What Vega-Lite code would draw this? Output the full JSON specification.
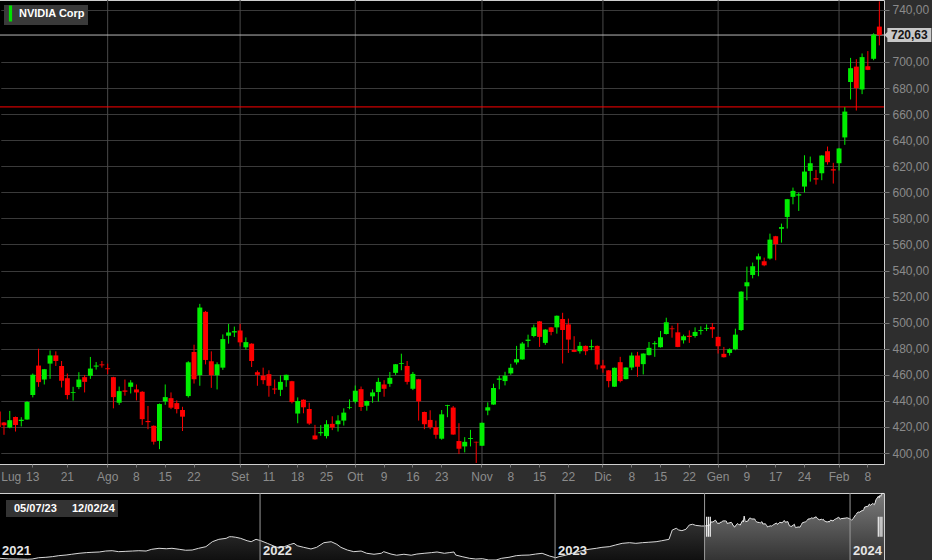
{
  "$schema": "https://vega.github.io/schema/vega-lite/v6.json",
  "background": "#2e2e2e",
  "padding": {"left": -4, "top": -1, "right": 0, "bottom": 0},
  "spacing": 7,
  "config": {
    "locale": {"number": {"decimal": ",", "thousands": ".", "grouping": [3], "currency": ["", " €"]}},
    "view": {"stroke": "#cfcfcf", "fill": "#000000"},
    "font": "Liberation Sans",
    "axis": {"labelFont": "Liberation Sans", "domain": false}
  },
  "datasets": {
    "candles": [
      {"date":"2023-07-05","open":431.8,"high":432.5,"low":418.5,"close":419.8},
      {"date":"2023-07-06","open":423.4,"high":423.8,"low":414,"close":421.4},
      {"date":"2023-07-07","open":419.6,"high":432.3,"low":419,"close":425.2},
      {"date":"2023-07-10","open":427.7,"high":428,"low":416.5,"close":421.6},
      {"date":"2023-07-11","open":424.5,"high":427.5,"low":420.4,"close":425.5},
      {"date":"2023-07-12","open":425.7,"high":439.9,"low":425.5,"close":439.1},
      {"date":"2023-07-13","open":444.5,"high":461,"low":442.7,"close":460},
      {"date":"2023-07-14","open":467.1,"high":480,"low":450.8,"close":454.4},
      {"date":"2023-07-17","open":456.4,"high":464.5,"low":452.6,"close":464.3},
      {"date":"2023-07-18","open":468.6,"high":478.7,"low":456.9,"close":474.9},
      {"date":"2023-07-19","open":474.9,"high":478,"low":466.8,"close":470.6},
      {"date":"2023-07-20","open":466.8,"high":470.6,"low":450.3,"close":455.4},
      {"date":"2023-07-21","open":457.4,"high":461,"low":441.2,"close":444.5},
      {"date":"2023-07-24","open":446.2,"high":450.8,"low":440.2,"close":446.8},
      {"date":"2023-07-25","open":450.6,"high":462,"low":449,"close":456.4},
      {"date":"2023-07-26","open":458.2,"high":459.9,"low":446.5,"close":454.6},
      {"date":"2023-07-27","open":459.2,"high":473.7,"low":456.9,"close":464.8},
      {"date":"2023-07-28","open":466.3,"high":469.8,"low":464,"close":467.1},
      {"date":"2023-07-31","open":468,"high":470.6,"low":465.5,"close":467.3},
      {"date":"2023-08-01","open":465,"high":468.6,"low":460.5,"close":464.3},
      {"date":"2023-08-02","open":458.2,"high":458.5,"low":434.3,"close":442.9},
      {"date":"2023-08-03","open":438.6,"high":451,"low":436.9,"close":447.5},
      {"date":"2023-08-04","open":448,"high":456.4,"low":444,"close":447},
      {"date":"2023-08-07","open":450.8,"high":455.9,"low":445.7,"close":454.1},
      {"date":"2023-08-08","open":448.8,"high":452.6,"low":440.4,"close":446.5},
      {"date":"2023-08-09","open":447,"high":447.5,"low":421.6,"close":426},
      {"date":"2023-08-10","open":424.6,"high":436.1,"low":418.3,"close":423.7},
      {"date":"2023-08-11","open":420.9,"high":421.2,"low":406.5,"close":408.7},
      {"date":"2023-08-14","open":409.3,"high":438,"low":403,"close":437.6},
      {"date":"2023-08-15","open":439.6,"high":452.6,"low":437,"close":442.9},
      {"date":"2023-08-16","open":442.1,"high":446.5,"low":433.7,"close":434.8},
      {"date":"2023-08-17","open":438.3,"high":440.4,"low":430.4,"close":433.7},
      {"date":"2023-08-18","open":433,"high":435.5,"low":416.9,"close":427.9},
      {"date":"2023-08-21","open":443.7,"high":470.4,"low":442.6,"close":469.6},
      {"date":"2023-08-22","open":477.5,"high":483.1,"low":453.3,"close":456.6},
      {"date":"2023-08-23","open":459.7,"high":514.4,"low":451.6,"close":511.6},
      {"date":"2023-08-24","open":508.3,"high":509,"low":468,"close":471.4},
      {"date":"2023-08-25","open":470.4,"high":478,"low":450,"close":459.7},
      {"date":"2023-08-28","open":459.7,"high":469.6,"low":448.8,"close":468.1},
      {"date":"2023-08-29","open":465.5,"high":491,"low":463.8,"close":487.4},
      {"date":"2023-08-30","open":490,"high":499.1,"low":483.9,"close":492.5},
      {"date":"2023-08-31","open":492.5,"high":497,"low":489,"close":493.5},
      {"date":"2023-09-01","open":494,"high":499.1,"low":481.8,"close":484.9},
      {"date":"2023-09-05","open":481.1,"high":488.7,"low":479.3,"close":485.1},
      {"date":"2023-09-06","open":483.9,"high":484.2,"low":466,"close":470.6},
      {"date":"2023-09-07","open":462,"high":463.3,"low":451.6,"close":460},
      {"date":"2023-09-08","open":459.4,"high":465.5,"low":452.8,"close":455.9},
      {"date":"2023-09-11","open":460.5,"high":463.5,"low":443.2,"close":451.6},
      {"date":"2023-09-12","open":449.5,"high":456.4,"low":445.2,"close":448.7},
      {"date":"2023-09-13","open":448.5,"high":459.7,"low":443.7,"close":454.6},
      {"date":"2023-09-14","open":455.9,"high":460.2,"low":450.8,"close":460},
      {"date":"2023-09-15","open":455.1,"high":455.4,"low":438.1,"close":439.1},
      {"date":"2023-09-18","open":430.3,"high":442.7,"low":422.9,"close":439.9},
      {"date":"2023-09-19","open":440.9,"high":441.2,"low":430.5,"close":435.1},
      {"date":"2023-09-20","open":433.8,"high":438.6,"low":421.6,"close":422.6},
      {"date":"2023-09-21","open":413.5,"high":421.6,"low":410.3,"close":410.5},
      {"date":"2023-09-22","open":415.2,"high":421.4,"low":413.2,"close":416},
      {"date":"2023-09-25","open":413,"high":425.2,"low":411.2,"close":422.1},
      {"date":"2023-09-26","open":422.4,"high":428.2,"low":417.6,"close":419.6},
      {"date":"2023-09-27","open":422.1,"high":429,"low":416.5,"close":424.9},
      {"date":"2023-09-28","open":424.9,"high":434.3,"low":421.1,"close":431},
      {"date":"2023-09-29","open":434.6,"high":441.2,"low":433.6,"close":435.1},
      {"date":"2023-10-02","open":439.4,"high":451.8,"low":438.1,"close":447.8},
      {"date":"2023-10-03","open":449,"high":451,"low":432.3,"close":435.3},
      {"date":"2023-10-04","open":436.3,"high":440.2,"low":432.5,"close":439.9},
      {"date":"2023-10-05","open":443.5,"high":448.8,"low":438.6,"close":446.5},
      {"date":"2023-10-06","open":446.8,"high":457.7,"low":439.4,"close":454.6},
      {"date":"2023-10-09","open":452.6,"high":455.9,"low":443.2,"close":449.3},
      {"date":"2023-10-10","open":453.1,"high":462.2,"low":450.8,"close":457.7},
      {"date":"2023-10-11","open":461.5,"high":468.3,"low":459.9,"close":468.1},
      {"date":"2023-10-12","open":468.3,"high":476.2,"low":463.5,"close":468.9},
      {"date":"2023-10-13","open":466.8,"high":470.6,"low":452.6,"close":454.6},
      {"date":"2023-10-16","open":449.3,"high":462.2,"low":448.3,"close":460.7},
      {"date":"2023-10-17","open":456.6,"high":456.9,"low":424.9,"close":439.6},
      {"date":"2023-10-18","open":431.5,"high":431.8,"low":418.3,"close":422.1},
      {"date":"2023-10-19","open":425.4,"high":432.8,"low":418.3,"close":419.8},
      {"date":"2023-10-20","open":419.8,"high":424.9,"low":411,"close":414},
      {"date":"2023-10-23","open":411,"high":433,"low":410.2,"close":429.7},
      {"date":"2023-10-24","open":436.2,"high":437,"low":427.5,"close":436.8},
      {"date":"2023-10-25","open":434.9,"high":436.1,"low":414,"close":414.2},
      {"date":"2023-10-26","open":409.2,"high":422.9,"low":399.2,"close":403.3},
      {"date":"2023-10-27","open":405.1,"high":412.2,"low":400.5,"close":408.6},
      {"date":"2023-10-30","open":410.8,"high":417.8,"low":405.1,"close":411.5},
      {"date":"2023-10-31","open":408.6,"high":408.8,"low":392.4,"close":408.1},
      {"date":"2023-11-01","open":405.6,"high":423.4,"low":405.4,"close":423.2},
      {"date":"2023-11-02","open":432.6,"high":438.9,"low":429,"close":435.1},
      {"date":"2023-11-03","open":437.2,"high":453.2,"low":437,"close":449.9},
      {"date":"2023-11-06","open":456.2,"high":459.3,"low":448.9,"close":457.2},
      {"date":"2023-11-07","open":455.2,"high":462.3,"low":451.9,"close":459.3},
      {"date":"2023-11-08","open":461.1,"high":468.4,"low":460,"close":465.4},
      {"date":"2023-11-09","open":469.5,"high":482.2,"low":467.9,"close":472},
      {"date":"2023-11-10","open":471.8,"high":485.2,"low":471.6,"close":484},
      {"date":"2023-11-13","open":486,"high":490.8,"low":481.2,"close":487},
      {"date":"2023-11-14","open":489.8,"high":498.5,"low":488.8,"close":496.4},
      {"date":"2023-11-15","open":501,"high":501.3,"low":481.4,"close":489.1},
      {"date":"2023-11-16","open":484.5,"high":495,"low":483,"close":494.7},
      {"date":"2023-11-17","open":496.4,"high":496.7,"low":490.3,"close":492.9},
      {"date":"2023-11-20","open":496.4,"high":505.5,"low":491.6,"close":505.3},
      {"date":"2023-11-21","open":502.8,"high":507.6,"low":468.7,"close":494.4},
      {"date":"2023-11-22","open":498.7,"high":503.1,"low":476.8,"close":487},
      {"date":"2023-11-24","open":479.1,"high":489.6,"low":477.4,"close":477.6},
      {"date":"2023-11-27","open":478.1,"high":485.2,"low":476.3,"close":482.2},
      {"date":"2023-11-28","open":482.2,"high":482.5,"low":475.1,"close":478.1},
      {"date":"2023-11-29","open":481.2,"high":487,"low":478.9,"close":482},
      {"date":"2023-11-30","open":482.2,"high":482.5,"low":464.1,"close":467.9},
      {"date":"2023-12-01","open":467.2,"high":471.5,"low":461.6,"close":464.9},
      {"date":"2023-12-04","open":463.4,"high":463.6,"low":450.4,"close":455.2},
      {"date":"2023-12-05","open":450.9,"high":465.6,"low":450.7,"close":465.4},
      {"date":"2023-12-06","open":469.7,"high":473.8,"low":454.2,"close":455.2},
      {"date":"2023-12-07","open":456.7,"high":465.8,"low":456.5,"close":465.6},
      {"date":"2023-12-08","open":465.6,"high":477.1,"low":463.6,"close":474.8},
      {"date":"2023-12-11","open":474.8,"high":477.6,"low":458.5,"close":466.2},
      {"date":"2023-12-12","open":468.2,"high":476.5,"low":460.3,"close":476.3},
      {"date":"2023-12-13","open":475.1,"high":485.2,"low":474.9,"close":480.7},
      {"date":"2023-12-14","open":483.5,"high":485.8,"low":473.8,"close":484.3},
      {"date":"2023-12-15","open":481.2,"high":493.6,"low":480.9,"close":488.8},
      {"date":"2023-12-18","open":491.3,"high":503.8,"low":490.9,"close":500.3},
      {"date":"2023-12-19","open":495.6,"high":497.7,"low":488.5,"close":495},
      {"date":"2023-12-20","open":492.6,"high":499.7,"low":481.2,"close":481.4},
      {"date":"2023-12-21","open":486.5,"high":490.8,"low":484,"close":489.6},
      {"date":"2023-12-22","open":490,"high":494.1,"low":484.5,"close":489},
      {"date":"2023-12-26","open":489.8,"high":496.4,"low":488.5,"close":492.9},
      {"date":"2023-12-27","open":493.7,"high":497.2,"low":490.8,"close":494.4},
      {"date":"2023-12-28","open":495.3,"high":498.7,"low":493.6,"close":496},
      {"date":"2023-12-29","open":496.7,"high":499.7,"low":488.3,"close":494.9},
      {"date":"2024-01-02","open":489.1,"high":489.4,"low":476.3,"close":481.9},
      {"date":"2024-01-03","open":476.1,"high":481.4,"low":473.3,"close":473.5},
      {"date":"2024-01-04","open":476.8,"high":480.3,"low":474.8,"close":479.6},
      {"date":"2024-01-05","open":479.6,"high":495.4,"low":478.9,"close":490.8},
      {"date":"2024-01-08","open":494.4,"high":524.1,"low":493.7,"close":523.8},
      {"date":"2024-01-09","open":527.9,"high":543,"low":517.2,"close":531},
      {"date":"2024-01-10","open":536.6,"high":546.1,"low":534,"close":543.3},
      {"date":"2024-01-11","open":548.4,"high":553,"low":535.6,"close":550.9},
      {"date":"2024-01-12","open":547.1,"high":549.9,"low":543.3,"close":544},
      {"date":"2024-01-16","open":549.2,"high":568.3,"low":548.4,"close":563.7},
      {"date":"2024-01-17","open":566.3,"high":566.6,"low":547.9,"close":560.2},
      {"date":"2024-01-18","open":572,"high":576,"low":561.4,"close":573.3},
      {"date":"2024-01-19","open":581.1,"high":594.9,"low":572.2,"close":594.7},
      {"date":"2024-01-22","open":596.5,"high":603.6,"low":590.8,"close":601.1},
      {"date":"2024-01-23","open":597.5,"high":599.8,"low":585.7,"close":598.5},
      {"date":"2024-01-24","open":604.4,"high":628.4,"low":599.8,"close":615.9},
      {"date":"2024-01-25","open":616.4,"high":627.4,"low":608.2,"close":622.3},
      {"date":"2024-01-26","open":610.8,"high":617.2,"low":605.9,"close":609.8},
      {"date":"2024-01-29","open":614.6,"high":628.5,"low":609.3,"close":628.2},
      {"date":"2024-01-30","open":631.5,"high":635.1,"low":621.3,"close":623.1},
      {"date":"2024-01-31","open":617.7,"high":622.6,"low":606.7,"close":616.7},
      {"date":"2024-02-01","open":622.3,"high":634,"low":616.7,"close":633.6},
      {"date":"2024-02-02","open":642.1,"high":665.3,"low":636.4,"close":661.9},
      {"date":"2024-02-05","open":684.6,"high":703.1,"low":671.2,"close":695.2},
      {"date":"2024-02-06","open":696.4,"high":702.1,"low":662.7,"close":679.9},
      {"date":"2024-02-07","open":678.9,"high":706.5,"low":675.3,"close":703.7},
      {"date":"2024-02-08","open":696.7,"high":708.3,"low":693.7,"close":693.9},
      {"date":"2024-02-09","open":702.4,"high":722,"low":701.3,"close":720.9},
      {"date":"2024-02-12","open":727.1,"high":746.4,"low":712.7,"close":720.63}
    ],
    "months": [
      {"date":"2023-08-01"},{"date":"2023-09-01"},{"date":"2023-10-02"},{"date":"2023-11-01"},
      {"date":"2023-12-01"},{"date":"2024-01-02"},{"date":"2024-02-01"}
    ],
    "last": [{"date":"2024-02-12","close":720.63}],
    "level": [{"level":665.5}],
    "series": [{"name":"NVIDIA Corp"}],
    "navHist": [
      {"t":"2021-02-12","v":122},{"t":"2021-02-24","v":116},{"t":"2021-03-09","v":115},{"t":"2021-03-19","v":113},
      {"t":"2021-03-25","v":115},{"t":"2021-04-02","v":127},{"t":"2021-04-11","v":131},{"t":"2021-04-19","v":137},
      {"t":"2021-04-27","v":146},{"t":"2021-05-06","v":152},{"t":"2021-05-13","v":159},{"t":"2021-05-22","v":168},
      {"t":"2021-05-31","v":174},{"t":"2021-06-07","v":177},{"t":"2021-06-16","v":180},{"t":"2021-06-24","v":189},
      {"t":"2021-07-02","v":192},{"t":"2021-07-10","v":183},{"t":"2021-07-19","v":186},{"t":"2021-07-27","v":189},
      {"t":"2021-08-04","v":192},{"t":"2021-08-13","v":189},{"t":"2021-08-20","v":205},{"t":"2021-08-29","v":214},
      {"t":"2021-09-07","v":210},{"t":"2021-09-14","v":214},{"t":"2021-09-23","v":205},{"t":"2021-10-01","v":196},
      {"t":"2021-10-09","v":198},{"t":"2021-10-17","v":214},{"t":"2021-10-26","v":229},{"t":"2021-11-03","v":275},
      {"t":"2021-11-11","v":297},{"t":"2021-11-20","v":306},{"t":"2021-11-24","v":321},{"t":"2021-11-27","v":321},
      {"t":"2021-12-02","v":316},{"t":"2021-12-08","v":306},{"t":"2021-12-16","v":284},{"t":"2021-12-21","v":275},
      {"t":"2021-12-27","v":297},{"t":"2022-01-02","v":284},{"t":"2022-01-10","v":260},{"t":"2022-01-22","v":223},
      {"t":"2022-01-31","v":229},{"t":"2022-02-08","v":251},{"t":"2022-02-12","v":260},{"t":"2022-02-16","v":238},
      {"t":"2022-02-24","v":223},{"t":"2022-03-05","v":208},{"t":"2022-03-12","v":223},{"t":"2022-03-21","v":266},
      {"t":"2022-03-30","v":275},{"t":"2022-04-06","v":251},{"t":"2022-04-11","v":223},{"t":"2022-04-19","v":198},
      {"t":"2022-04-27","v":183},{"t":"2022-05-06","v":189},{"t":"2022-05-13","v":168},{"t":"2022-05-22","v":159},
      {"t":"2022-05-31","v":168},{"t":"2022-06-03","v":183},{"t":"2022-06-12","v":161},{"t":"2022-06-19","v":150},
      {"t":"2022-06-28","v":159},{"t":"2022-07-07","v":150},{"t":"2022-07-14","v":161},{"t":"2022-07-23","v":168},
      {"t":"2022-08-01","v":174},{"t":"2022-08-08","v":180},{"t":"2022-08-17","v":168},{"t":"2022-08-23","v":174},
      {"t":"2022-08-29","v":180},{"t":"2022-08-31","v":152},{"t":"2022-09-08","v":137},{"t":"2022-09-17","v":122},
      {"t":"2022-09-25","v":115},{"t":"2022-10-03","v":118},{"t":"2022-10-11","v":106},{"t":"2022-10-20","v":106},
      {"t":"2022-10-27","v":122},{"t":"2022-11-05","v":131},{"t":"2022-11-14","v":146},{"t":"2022-11-21","v":150},
      {"t":"2022-11-30","v":152},{"t":"2022-12-08","v":161},{"t":"2022-12-16","v":168},{"t":"2022-12-25","v":143},
      {"t":"2023-01-02","v":127},{"t":"2023-01-06","v":137},{"t":"2023-01-15","v":152},{"t":"2023-02-03","v":192},
      {"t":"2023-02-12","v":205},{"t":"2023-02-21","v":214},{"t":"2023-02-28","v":223},{"t":"2023-03-09","v":229},
      {"t":"2023-03-17","v":245},{"t":"2023-03-25","v":260},{"t":"2023-04-03","v":266},{"t":"2023-04-11","v":260},
      {"t":"2023-04-19","v":266},{"t":"2023-04-27","v":270},{"t":"2023-05-06","v":275},{"t":"2023-05-13","v":284},
      {"t":"2023-05-22","v":297},{"t":"2023-05-26","v":383},{"t":"2023-05-31","v":399},{"t":"2023-06-03","v":383},
      {"t":"2023-06-07","v":377},{"t":"2023-06-12","v":390},{"t":"2023-06-16","v":429},{"t":"2023-06-20","v":436},
      {"t":"2023-06-24","v":426},{"t":"2023-07-01","v":420},{"t":"2023-07-05","v":420}
    ],
    "navSel": [
      {"t":"2023-07-05","v":419.8},{"t":"2023-07-06","v":421.4},{"t":"2023-07-07","v":425.2},{"t":"2023-07-10","v":421.6},
      {"t":"2023-07-11","v":425.5},{"t":"2023-07-12","v":439.1},{"t":"2023-07-13","v":460},{"t":"2023-07-14","v":454.4},
      {"t":"2023-07-17","v":464.3},{"t":"2023-07-18","v":474.9},{"t":"2023-07-19","v":470.6},{"t":"2023-07-20","v":455.4},
      {"t":"2023-07-21","v":444.5},{"t":"2023-07-24","v":446.8},{"t":"2023-07-25","v":456.4},{"t":"2023-07-26","v":454.6},
      {"t":"2023-07-27","v":464.8},{"t":"2023-07-28","v":467.1},{"t":"2023-07-31","v":467.3},{"t":"2023-08-01","v":464.3},
      {"t":"2023-08-02","v":442.9},{"t":"2023-08-03","v":447.5},{"t":"2023-08-04","v":447},{"t":"2023-08-07","v":454.1},
      {"t":"2023-08-08","v":446.5},{"t":"2023-08-09","v":426},{"t":"2023-08-10","v":423.7},{"t":"2023-08-11","v":408.7},
      {"t":"2023-08-14","v":437.6},{"t":"2023-08-15","v":442.9},{"t":"2023-08-16","v":434.8},{"t":"2023-08-17","v":433.7},
      {"t":"2023-08-18","v":427.9},{"t":"2023-08-21","v":469.6},{"t":"2023-08-22","v":456.6},{"t":"2023-08-23","v":511.6},
      {"t":"2023-08-24","v":471.4},{"t":"2023-08-25","v":459.7},{"t":"2023-08-28","v":468.1},{"t":"2023-08-29","v":487.4},
      {"t":"2023-08-30","v":492.5},{"t":"2023-08-31","v":493.5},{"t":"2023-09-01","v":484.9},{"t":"2023-09-05","v":485.1},
      {"t":"2023-09-06","v":470.6},{"t":"2023-09-07","v":460},{"t":"2023-09-08","v":455.9},{"t":"2023-09-11","v":451.6},
      {"t":"2023-09-12","v":448.7},{"t":"2023-09-13","v":454.6},{"t":"2023-09-14","v":460},{"t":"2023-09-15","v":439.1},
      {"t":"2023-09-18","v":439.9},{"t":"2023-09-19","v":435.1},{"t":"2023-09-20","v":422.6},{"t":"2023-09-21","v":410.5},
      {"t":"2023-09-22","v":416},{"t":"2023-09-25","v":422.1},{"t":"2023-09-26","v":419.6},{"t":"2023-09-27","v":424.9},
      {"t":"2023-09-28","v":431},{"t":"2023-09-29","v":435.1},{"t":"2023-10-02","v":447.8},{"t":"2023-10-03","v":435.3},
      {"t":"2023-10-04","v":439.9},{"t":"2023-10-05","v":446.5},{"t":"2023-10-06","v":454.6},{"t":"2023-10-09","v":449.3},
      {"t":"2023-10-10","v":457.7},{"t":"2023-10-11","v":468.1},{"t":"2023-10-12","v":468.9},{"t":"2023-10-13","v":454.6},
      {"t":"2023-10-16","v":460.7},{"t":"2023-10-17","v":439.6},{"t":"2023-10-18","v":422.1},{"t":"2023-10-19","v":419.8},
      {"t":"2023-10-20","v":414},{"t":"2023-10-23","v":429.7},{"t":"2023-10-24","v":436.8},{"t":"2023-10-25","v":414.2},
      {"t":"2023-10-26","v":403.3},{"t":"2023-10-27","v":408.6},{"t":"2023-10-30","v":411.5},{"t":"2023-10-31","v":408.1},
      {"t":"2023-11-01","v":423.2},{"t":"2023-11-02","v":435.1},{"t":"2023-11-03","v":449.9},{"t":"2023-11-06","v":457.2},
      {"t":"2023-11-07","v":459.3},{"t":"2023-11-08","v":465.4},{"t":"2023-11-09","v":472},{"t":"2023-11-10","v":484},
      {"t":"2023-11-13","v":487},{"t":"2023-11-14","v":496.4},{"t":"2023-11-15","v":489.1},{"t":"2023-11-16","v":494.7},
      {"t":"2023-11-17","v":492.9},{"t":"2023-11-20","v":505.3},{"t":"2023-11-21","v":494.4},{"t":"2023-11-22","v":487},
      {"t":"2023-11-24","v":477.6},{"t":"2023-11-27","v":482.2},{"t":"2023-11-28","v":478.1},{"t":"2023-11-29","v":482},
      {"t":"2023-11-30","v":467.9},{"t":"2023-12-01","v":464.9},{"t":"2023-12-04","v":455.2},{"t":"2023-12-05","v":465.4},
      {"t":"2023-12-06","v":455.2},{"t":"2023-12-07","v":465.6},{"t":"2023-12-08","v":474.8},{"t":"2023-12-11","v":466.2},
      {"t":"2023-12-12","v":476.3},{"t":"2023-12-13","v":480.7},{"t":"2023-12-14","v":484.3},{"t":"2023-12-15","v":488.8},
      {"t":"2023-12-18","v":500.3},{"t":"2023-12-19","v":495},{"t":"2023-12-20","v":481.4},{"t":"2023-12-21","v":489.6},
      {"t":"2023-12-22","v":489},{"t":"2023-12-26","v":492.9},{"t":"2023-12-27","v":494.4},{"t":"2023-12-28","v":496},
      {"t":"2023-12-29","v":494.9},{"t":"2024-01-02","v":481.9},{"t":"2024-01-03","v":473.5},{"t":"2024-01-04","v":479.6},
      {"t":"2024-01-05","v":490.8},{"t":"2024-01-08","v":523.8},{"t":"2024-01-09","v":531},{"t":"2024-01-10","v":543.3},
      {"t":"2024-01-11","v":550.9},{"t":"2024-01-12","v":544},{"t":"2024-01-16","v":563.7},{"t":"2024-01-17","v":560.2},
      {"t":"2024-01-18","v":573.3},{"t":"2024-01-19","v":594.7},{"t":"2024-01-22","v":601.1},{"t":"2024-01-23","v":598.5},
      {"t":"2024-01-24","v":615.9},{"t":"2024-01-25","v":622.3},{"t":"2024-01-26","v":609.8},{"t":"2024-01-29","v":628.2},
      {"t":"2024-01-30","v":623.1},{"t":"2024-01-31","v":616.7},{"t":"2024-02-01","v":633.6},{"t":"2024-02-02","v":661.9},
      {"t":"2024-02-05","v":695.2},{"t":"2024-02-06","v":679.9},{"t":"2024-02-07","v":703.7},{"t":"2024-02-08","v":693.9},
      {"t":"2024-02-09","v":720.9},{"t":"2024-02-12","v":720.63}
    ],
    "navLines": [{"t":"2022-01-01"},{"t":"2023-01-01"},{"t":"2024-01-01"},{"t":"2023-07-05"}],
    "years": [
      {"t":"2021-02-12","year":"2021"},{"t":"2022-01-01","year":"2022"},
      {"t":"2023-01-01","year":"2023"},{"t":"2024-01-01","year":"2024"}
    ],
    "handles": [{"t":"2023-07-05","label":"05/07/23"},{"t":"2024-02-12","label":"12/02/24"}]
  },
  "resolve": {
    "scale": {"fill": "independent", "shape": "independent"},
    "legend": {"fill": "independent", "shape": "independent"}
  },
  "vconcat": [
    {
      "width": 885,
      "height": 464,
      "view": {"fill": "#000000", "stroke": "#cfcfcf"},
      "layer": [
        {
          "data": {"name": "months"},
          "mark": {"type": "rule", "color": "#4a4a4a", "strokeWidth": 1},
          "encoding": {
            "x": {
              "field": "date", "type": "ordinal",
              "scale": {"type": "band", "paddingInner": 0, "paddingOuter": 0, "range": [-3.64, 883.24]},
              "axis": {"values": ["2023-07-05","2023-07-13","2023-07-21","2023-08-01","2023-08-08","2023-08-15","2023-08-22","2023-09-01","2023-09-11","2023-09-18","2023-09-25","2023-10-02","2023-10-09","2023-10-16","2023-10-23","2023-11-01","2023-11-08","2023-11-15","2023-11-22","2023-12-01","2023-12-08","2023-12-15","2023-12-22","2024-01-02","2024-01-09","2024-01-17","2024-01-24","2024-02-01","2024-02-08"], "labelExpr": "toNumber(substring(datum.value,8,10)) <= 5 ? (substring(datum.value,5,7) == '07' ? 'Lug' : substring(datum.value,5,7) == '08' ? 'Ago' : substring(datum.value,5,7) == '09' ? 'Set' : substring(datum.value,5,7) == '10' ? 'Ott' : substring(datum.value,5,7) == '11' ? 'Nov' : substring(datum.value,5,7) == '12' ? 'Dic' : substring(datum.value,5,7) == '01' ? 'Gen' : 'Feb') : ('' + toNumber(substring(datum.value,8,10)))", "labelAngle": 0, "labelFlush": 1, "labelFlushOffset": -3, "labelColor": "#8c8c8c", "labelFontSize": 12, "labelPadding": 4, "labelOverlap": false, "tickSize": 3, "tickColor": "#777777", "grid": false, "domain": false, "title": null}
            }
          }
        },
        {
          "data": {"name": "level"},
          "mark": {"type": "rule", "color": "#ff0000", "strokeWidth": 1},
          "encoding": {
            "y": {
              "field": "level", "type": "quantitative",
              "scale": {"domain": [391.6, 747.5], "nice": false, "zero": false},
              "axis": {"orient": "right", "values": [400,420,440,460,480,500,520,540,560,580,600,620,640,660,680,700,740], "format": ".2f", "grid": true, "gridColor": "#3a3a3a", "tickSize": 5, "tickColor": "#777777", "labelColor": "#8a8a8a", "labelFontSize": 12, "labelPadding": 3, "labelOverlap": false, "labelBound": false, "domain": false, "title": null}
            }
          }
        },
        {
          "data": {"name": "last"},
          "mark": {"type": "rule", "color": "#b8b8b8", "strokeWidth": 1},
          "encoding": {
            "y": {"field": "close", "type": "quantitative", "axis": {"orient": "right", "values": [400,420,440,460,480,500,520,540,560,580,600,620,640,660,680,700,740], "format": ".2f", "grid": true, "gridColor": "#3a3a3a", "tickSize": 5, "tickColor": "#777777", "labelColor": "#8a8a8a", "labelFontSize": 12, "labelPadding": 3, "labelOverlap": false, "labelBound": false, "domain": false, "title": null}}
          }
        },
        {
          "data": {"name": "candles"},
          "mark": {"type": "rule", "strokeWidth": 1, "clip": true},
          "encoding": {
            "x": {"field": "date", "type": "ordinal", "axis": {"values": ["2023-07-05","2023-07-13","2023-07-21","2023-08-01","2023-08-08","2023-08-15","2023-08-22","2023-09-01","2023-09-11","2023-09-18","2023-09-25","2023-10-02","2023-10-09","2023-10-16","2023-10-23","2023-11-01","2023-11-08","2023-11-15","2023-11-22","2023-12-01","2023-12-08","2023-12-15","2023-12-22","2024-01-02","2024-01-09","2024-01-17","2024-01-24","2024-02-01","2024-02-08"], "labelExpr": "toNumber(substring(datum.value,8,10)) <= 5 ? (substring(datum.value,5,7) == '07' ? 'Lug' : substring(datum.value,5,7) == '08' ? 'Ago' : substring(datum.value,5,7) == '09' ? 'Set' : substring(datum.value,5,7) == '10' ? 'Ott' : substring(datum.value,5,7) == '11' ? 'Nov' : substring(datum.value,5,7) == '12' ? 'Dic' : substring(datum.value,5,7) == '01' ? 'Gen' : 'Feb') : ('' + toNumber(substring(datum.value,8,10)))", "labelAngle": 0, "labelFlush": 1, "labelFlushOffset": -3, "labelColor": "#8c8c8c", "labelFontSize": 12, "labelPadding": 4, "labelOverlap": false, "tickSize": 3, "tickColor": "#777777", "grid": false, "domain": false, "title": null}},
            "y": {"field": "low", "type": "quantitative", "axis": {"orient": "right", "values": [400,420,440,460,480,500,520,540,560,580,600,620,640,660,680,700,740], "format": ".2f", "grid": true, "gridColor": "#3a3a3a", "tickSize": 5, "tickColor": "#777777", "labelColor": "#8a8a8a", "labelFontSize": 12, "labelPadding": 3, "labelOverlap": false, "labelBound": false, "domain": false, "title": null}},
            "y2": {"field": "high"},
            "color": {"condition": {"test": "datum.close >= datum.open", "value": "#00ee00"}, "value": "#ff0000"}
          }
        },
        {
          "data": {"name": "candles"},
          "mark": {"type": "bar", "width": {"band": 0.86}, "clip": true},
          "encoding": {
            "x": {"field": "date", "type": "ordinal", "axis": {"values": ["2023-07-05","2023-07-13","2023-07-21","2023-08-01","2023-08-08","2023-08-15","2023-08-22","2023-09-01","2023-09-11","2023-09-18","2023-09-25","2023-10-02","2023-10-09","2023-10-16","2023-10-23","2023-11-01","2023-11-08","2023-11-15","2023-11-22","2023-12-01","2023-12-08","2023-12-15","2023-12-22","2024-01-02","2024-01-09","2024-01-17","2024-01-24","2024-02-01","2024-02-08"], "labelExpr": "toNumber(substring(datum.value,8,10)) <= 5 ? (substring(datum.value,5,7) == '07' ? 'Lug' : substring(datum.value,5,7) == '08' ? 'Ago' : substring(datum.value,5,7) == '09' ? 'Set' : substring(datum.value,5,7) == '10' ? 'Ott' : substring(datum.value,5,7) == '11' ? 'Nov' : substring(datum.value,5,7) == '12' ? 'Dic' : substring(datum.value,5,7) == '01' ? 'Gen' : 'Feb') : ('' + toNumber(substring(datum.value,8,10)))", "labelAngle": 0, "labelFlush": 1, "labelFlushOffset": -3, "labelColor": "#8c8c8c", "labelFontSize": 12, "labelPadding": 4, "labelOverlap": false, "tickSize": 3, "tickColor": "#777777", "grid": false, "domain": false, "title": null}},
            "y": {"field": "open", "type": "quantitative", "axis": {"orient": "right", "values": [400,420,440,460,480,500,520,540,560,580,600,620,640,660,680,700,740], "format": ".2f", "grid": true, "gridColor": "#3a3a3a", "tickSize": 5, "tickColor": "#777777", "labelColor": "#8a8a8a", "labelFontSize": 12, "labelPadding": 3, "labelOverlap": false, "labelBound": false, "domain": false, "title": null}},
            "y2": {"field": "close"},
            "color": {"condition": {"test": "datum.close >= datum.open", "value": "#00ee00"}, "value": "#ff0000"}
          }
        },
        {
          "data": {"name": "last"},
          "mark": {"type": "point", "filled": true, "opacity": 1, "color": "#c8c8c8", "size": 1936, "xOffset": 30, "shape": "M-1.14,0L-1,-0.14V-0.32H1V0.32H-1V0.14Z"},
          "encoding": {
            "x": {"field": "date", "type": "ordinal", "axis": {"values": ["2023-07-05","2023-07-13","2023-07-21","2023-08-01","2023-08-08","2023-08-15","2023-08-22","2023-09-01","2023-09-11","2023-09-18","2023-09-25","2023-10-02","2023-10-09","2023-10-16","2023-10-23","2023-11-01","2023-11-08","2023-11-15","2023-11-22","2023-12-01","2023-12-08","2023-12-15","2023-12-22","2024-01-02","2024-01-09","2024-01-17","2024-01-24","2024-02-01","2024-02-08"], "labelExpr": "toNumber(substring(datum.value,8,10)) <= 5 ? (substring(datum.value,5,7) == '07' ? 'Lug' : substring(datum.value,5,7) == '08' ? 'Ago' : substring(datum.value,5,7) == '09' ? 'Set' : substring(datum.value,5,7) == '10' ? 'Ott' : substring(datum.value,5,7) == '11' ? 'Nov' : substring(datum.value,5,7) == '12' ? 'Dic' : substring(datum.value,5,7) == '01' ? 'Gen' : 'Feb') : ('' + toNumber(substring(datum.value,8,10)))", "labelAngle": 0, "labelFlush": 1, "labelFlushOffset": -3, "labelColor": "#8c8c8c", "labelFontSize": 12, "labelPadding": 4, "labelOverlap": false, "tickSize": 3, "tickColor": "#777777", "grid": false, "domain": false, "title": null}},
            "y": {"field": "close", "type": "quantitative", "axis": {"orient": "right", "values": [400,420,440,460,480,500,520,540,560,580,600,620,640,660,680,700,740], "format": ".2f", "grid": true, "gridColor": "#3a3a3a", "tickSize": 5, "tickColor": "#777777", "labelColor": "#8a8a8a", "labelFontSize": 12, "labelPadding": 3, "labelOverlap": false, "labelBound": false, "domain": false, "title": null}}
          }
        },
        {
          "data": {"name": "last"},
          "mark": {"type": "text", "dx": 30, "align": "center", "baseline": "middle", "fontSize": 12, "fontWeight": "bold", "color": "#151515", "font": "Liberation Sans"},
          "encoding": {
            "x": {"field": "date", "type": "ordinal", "axis": {"values": ["2023-07-05","2023-07-13","2023-07-21","2023-08-01","2023-08-08","2023-08-15","2023-08-22","2023-09-01","2023-09-11","2023-09-18","2023-09-25","2023-10-02","2023-10-09","2023-10-16","2023-10-23","2023-11-01","2023-11-08","2023-11-15","2023-11-22","2023-12-01","2023-12-08","2023-12-15","2023-12-22","2024-01-02","2024-01-09","2024-01-17","2024-01-24","2024-02-01","2024-02-08"], "labelExpr": "toNumber(substring(datum.value,8,10)) <= 5 ? (substring(datum.value,5,7) == '07' ? 'Lug' : substring(datum.value,5,7) == '08' ? 'Ago' : substring(datum.value,5,7) == '09' ? 'Set' : substring(datum.value,5,7) == '10' ? 'Ott' : substring(datum.value,5,7) == '11' ? 'Nov' : substring(datum.value,5,7) == '12' ? 'Dic' : substring(datum.value,5,7) == '01' ? 'Gen' : 'Feb') : ('' + toNumber(substring(datum.value,8,10)))", "labelAngle": 0, "labelFlush": 1, "labelFlushOffset": -3, "labelColor": "#8c8c8c", "labelFontSize": 12, "labelPadding": 4, "labelOverlap": false, "tickSize": 3, "tickColor": "#777777", "grid": false, "domain": false, "title": null}},
            "y": {"field": "close", "type": "quantitative", "axis": {"orient": "right", "values": [400,420,440,460,480,500,520,540,560,580,600,620,640,660,680,700,740], "format": ".2f", "grid": true, "gridColor": "#3a3a3a", "tickSize": 5, "tickColor": "#777777", "labelColor": "#8a8a8a", "labelFontSize": 12, "labelPadding": 3, "labelOverlap": false, "labelBound": false, "domain": false, "title": null}},
            "text": {"field": "close", "type": "quantitative", "format": ".2f"}
          }
        },
        {
          "data": {"name": "series"},
          "mark": {"type": "point", "filled": true, "opacity": 0},
          "encoding": {
            "fill": {
              "field": "name", "type": "nominal",
              "scale": {"range": ["#00e000"]},
              "legend": {
                "title": null,
                "orient": "top-left",
                "offset": 5,
                "padding": 3,
                "fillColor": "#3a3a3a",
                "symbolType": "M-0.9,-2H-0.1V2H-0.9Z",
                "symbolSize": 64,
                "symbolOpacity": 1,
                "symbolStrokeWidth": 0,
                "labelOffset": 1,
                "labelColor": "#ffffff",
                "labelFontSize": 11,
                "labelFontWeight": "bold",
                "labelFont": "Liberation Sans",
                "labelExpr": "datum.label + '\u2002\u2002\u2002'"
              }
            }
          }
        }
      ]
    },
    {
      "width": 885,
      "height": 67,
      "view": {"fill": "#000000", "stroke": "#cfcfcf"},
      "layer": [
        {
          "data": {"name": "navHist"},
          "mark": {
            "type": "area",
            "color": {"gradient": "linear", "x1": 0, "y1": 0, "x2": 0, "y2": 1, "stops": [{"offset": 0, "color": "#444444"}, {"offset": 1, "color": "#080808"}]},
            "line": {"color": "#d8d8d8", "strokeWidth": 1}
          },
          "encoding": {
            "x": {"field": "t", "type": "temporal", "scale": {"type": "utc", "domain": [{"year": 2021, "month": 2, "date": 12, "utc": true}, {"year": 2024, "month": 2, "date": 12, "utc": true}]}, "axis": null},
            "y": {"field": "v", "type": "quantitative", "scale": {"domain": [106, 725], "nice": false, "zero": false}, "axis": null}
          }
        },
        {
          "data": {"name": "navSel"},
          "mark": {
            "type": "area",
            "color": {"gradient": "linear", "x1": 0, "y1": 0, "x2": 0, "y2": 1, "stops": [{"offset": 0, "color": "#b0b0b0"}, {"offset": 1, "color": "#383838"}]},
            "line": {"color": "#e8e8e8", "strokeWidth": 1}
          },
          "encoding": {
            "x": {"field": "t", "type": "temporal"},
            "y": {"field": "v", "type": "quantitative"}
          }
        },
        {
          "data": {"name": "navLines"},
          "mark": {"type": "rule", "color": "#9a9a9a", "strokeWidth": 1},
          "encoding": {"x": {"field": "t", "type": "temporal"}}
        },
        {
          "data": {"name": "years"},
          "mark": {"type": "text", "align": "left", "baseline": "bottom", "dx": 3, "dy": -2, "color": "#e6e6e6", "fontSize": 13, "fontWeight": "bold", "font": "Liberation Sans"},
          "encoding": {
            "x": {"field": "t", "type": "temporal"},
            "y": {"datum": 106},
            "text": {"field": "year", "type": "nominal"}
          }
        },
        {
          "data": {"name": "handles"},
          "mark": {"type": "point", "filled": true, "opacity": 1, "color": "#f0f0f0", "size": 400},
          "encoding": {
            "x": {"field": "t", "type": "temporal"},
            "y": {"datum": 414},
            "shape": {
              "field": "label", "type": "nominal",
              "scale": {"domain": ["05/07/23", "12/02/24"], "range": ["M0.15,-1H0.27V1H0.15Z M0.33,-1H0.45V1H0.33Z M0.51,-1H0.63V1H0.51Z", "M-0.27,-1H-0.15V1H-0.27Z M-0.45,-1H-0.33V1H-0.45Z M-0.63,-1H-0.51V1H-0.63Z"]},
              "legend": {
                "title": null,
                "orient": "top-left",
                "direction": "horizontal",
                "offset": 7,
                "padding": 3,
                "fillColor": "#333333",
                "symbolSize": 0,
                "symbolOpacity": 0,
                "symbolStrokeWidth": 0,
                "labelOffset": -6,
                "columnPadding": 10,
                "labelColor": "#ffffff",
                "labelFontSize": 11,
                "labelFontWeight": "bold",
                "labelFont": "Liberation Sans",
                "encode": {"symbols": {"update": {"size": {"value": 0}}}}
              }
            }
          }
        }
      ]
    }
  ]
}
